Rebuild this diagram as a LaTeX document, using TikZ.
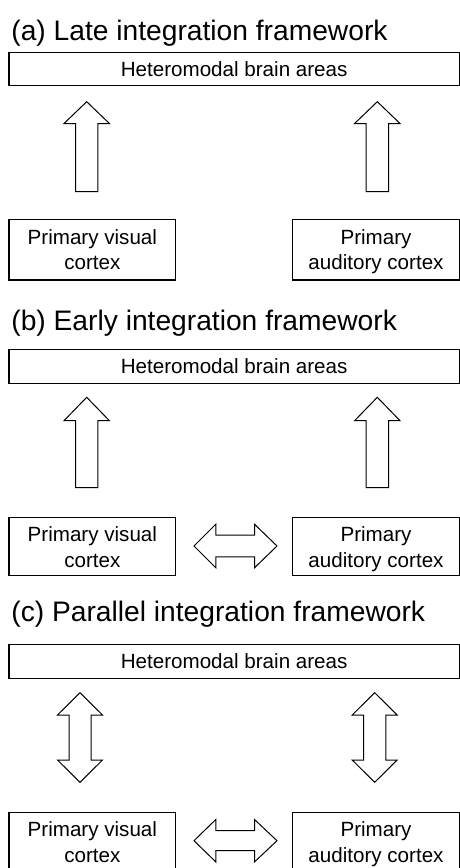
\documentclass[tikz,border=0pt]{standalone}
\usepackage{fontspec}
\setmainfont{Liberation Sans}
\newcommand\UpArr[6]{% cx, tip y, head base y, bottom y, head half, shaft half
  \draw[blockarrow] (#1,#2) -- (#1+#5,#3) -- (#1+#6,#3) -- (#1+#6,#4) -- (#1-#6,#4) -- (#1-#6,#3) -- (#1-#5,#3) -- cycle;}
\newcommand\DVArr[7]{% cx, top tip, top base, bottom base, bottom tip, head half, shaft half
  \draw[blockarrow] (#1,#2) -- (#1+#6,#3) -- (#1+#7,#3) -- (#1+#7,#4) -- (#1+#6,#4) -- (#1,#5) -- (#1-#6,#4) -- (#1-#7,#4) -- (#1-#7,#3) -- (#1-#6,#3) -- cycle;}
\newcommand\DHArr[7]{% cy, left tip, left base, right base, right tip, head half, shaft half
  \draw[blockarrow] (#2,#1) -- (#3,#1-#6) -- (#3,#1-#7) -- (#4,#1-#7) -- (#4,#1-#6) -- (#5,#1) -- (#4,#1+#6) -- (#4,#1+#7) -- (#3,#1+#7) -- (#3,#1+#6) -- cycle;}
\begin{document}
\begin{tikzpicture}[x=1pt,y=-1pt,
  box/.style={draw, line width=1.1pt, inner sep=0pt, align=center,
    font=\fontsize{20.6}{25.7}\selectfont},
  paneltitle/.style={anchor=base west, inner sep=0pt, font=\fontsize{28.2}{30}\selectfont},
  blockarrow/.style={draw, line width=1pt, line join=miter, fill=white}]
\clip (0,0) rectangle (460,868);
\fill[white] (0,0) rectangle (460,868);

% ---------- (a)
\node[paneltitle] (ta) at (11.2,40) {(a) Late integration framework};
\node[box, minimum width=450.3pt, minimum height=33.4pt] (hma) at (234.15,69) {Heteromodal brain areas};
\node[box, minimum width=166.7pt, minimum height=60.7pt] (pva) at (92.35,249.65) {Primary visual\\\smash{cortex}};
\node[box, minimum width=166.6pt, minimum height=60.7pt] (paa) at (376,249.65) {Primary\\\smash{auditory cortex}};
\UpArr{86.7}{101.7}{123.5}{191.5}{22.7}{11.2}
\UpArr{377.3}{101.7}{123.5}{191.5}{22.7}{11.2}

% ---------- (b)
\node[paneltitle] (tb) at (11.2,330) {(b) Early integration framework};
\node[box, minimum width=450.3pt, minimum height=34.4pt] (hmb) at (234.15,366.5) {Heteromodal brain areas};
\node[box, minimum width=166.7pt, minimum height=58pt] (pvb) at (92.35,546.7) {Primary visual\\\smash{cortex}};
\node[box, minimum width=166.6pt, minimum height=58pt] (pab) at (376,546.7) {Primary\\\smash{auditory cortex}};
\UpArr{86.7}{397.3}{420.7}{487.7}{22.7}{11.2}
\UpArr{377.3}{397.3}{420.7}{487.7}{22.7}{11.2}
\DHArr{546}{194}{215.8}{254.5}{277}{21.8}{10.8}

% ---------- (c)
\node[paneltitle] (tc) at (11.2,621.7) {(c) Parallel integration framework};
\node[box, minimum width=450.3pt, minimum height=34.4pt] (hmc) at (234.15,661.5) {Heteromodal brain areas};
\node[box, minimum width=166.7pt, minimum height=60pt] (pvc) at (92.35,842.3) {Primary visual\\\smash{cortex}};
\node[box, minimum width=166.6pt, minimum height=60pt] (pac) at (376,842.3) {Primary\\\smash{auditory cortex}};
\DVArr{80}{692.7}{715}{760}{782.3}{22.5}{11}
\DVArr{374.7}{692.7}{715}{760}{782.3}{22.5}{11.2}
\DHArr{840.7}{194}{215.8}{254.5}{277}{21.2}{10}
\end{tikzpicture}
\end{document}
